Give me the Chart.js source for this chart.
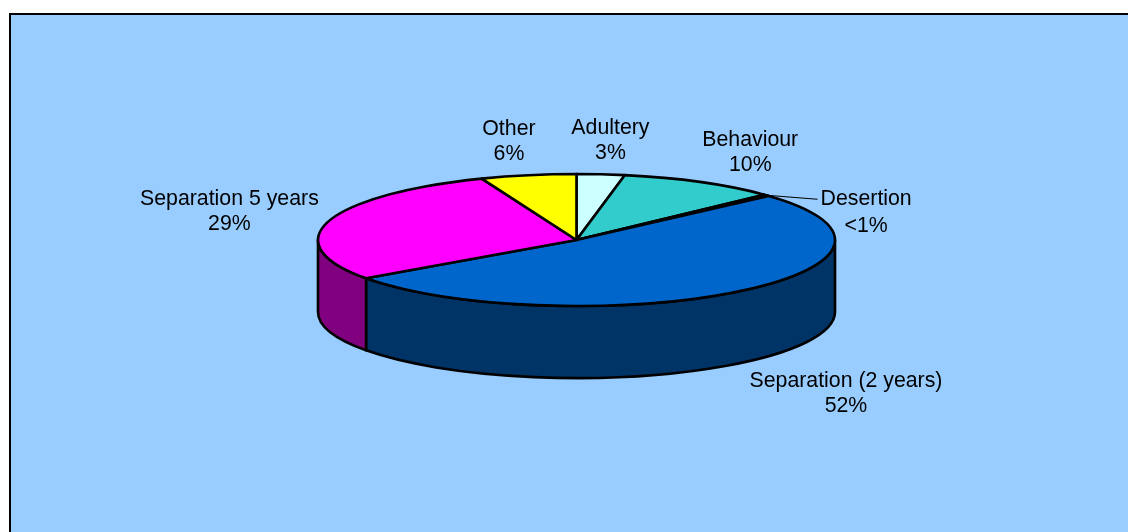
<!DOCTYPE html>
<html>
<head>
<meta charset="utf-8">
<script src="https://cdn.jsdelivr.net/npm/chart.js@4.4.1/dist/chart.umd.min.js"></script>
<style>
  html, body { margin: 0; padding: 0; background: #fff; overflow: hidden; width: 1128px; height: 532px; }
  #frame { position: absolute; left: 9px; top: 13px; width: 1200px; height: 600px;
           background: #99ccff; border-left: 2px solid #000; border-top: 2px solid #000; }
  #pie { position: absolute; left: 0; top: -60px; }
</style>
</head>
<body>
<div id="frame"></div>
<canvas id="pie" width="1128" height="600"></canvas>
<script>
// divorces by fact proven (percent of total)
var categories = ['Adultery', 'Behaviour', 'Desertion', 'Separation (2 years)', 'Separation 5 years', 'Other'];
var shares = [3, 10, 0.4, 52, 29, 6];
var topColours = ['#ccffff', '#33cccc', '#9999ff', '#0066cc', '#ff00ff', '#ffff00'];
var sideColours = ['#668080', '#1a6666', '#4d4d80', '#003366', '#800080', '#808000'];

var total = shares.reduce(function (a, b) { return a + b; }, 0);
function pctText(v) {
  var p = Math.round(v / total * 100);
  return p < 1 ? '<1%' : p + '%';
}

// flatten chart.js arcs into a tilted 3d pie
var pie3d = {
  id: 'pie3d',
  beforeDatasetsDraw: function (chart) {
    var ctx = chart.ctx;
    var arcs = chart.getDatasetMeta(0).data;
    var r = arcs[0].outerRadius;
    var cx = arcs[0].x, cy = arcs[0].y;
    var rx = r, ry = r * 0.2553, depth = 72;

    ctx.save();
    ctx.lineWidth = 2.6;
    ctx.strokeStyle = '#000';
    ctx.lineJoin = 'round';

    // side walls (front half only)
    arcs.forEach(function (a, i) {
      var a1 = Math.max(a.startAngle, 0), a2 = Math.min(a.endAngle, Math.PI);
      if (a2 <= a1) return;
      ctx.beginPath();
      ctx.ellipse(cx, cy, rx, ry, 0, a1, a2);
      ctx.ellipse(cx, cy + depth, rx, ry, 0, a2, a1, true);
      ctx.closePath();
      ctx.fillStyle = sideColours[i];
      ctx.fill();
      ctx.stroke();
    });

    // top faces
    arcs.forEach(function (a, i) {
      ctx.beginPath();
      ctx.moveTo(cx, cy);
      ctx.ellipse(cx, cy, rx, ry, 0, a.startAngle, a.endAngle);
      ctx.closePath();
      ctx.fillStyle = topColours[i];
      ctx.fill();
      ctx.stroke();
    });

    // labels
    ctx.fillStyle = '#000';
    ctx.font = '21.3px "Liberation Sans", Arial, sans-serif';
    ctx.textBaseline = 'middle';
    var lrx = rx + 103.5, lry = ry + 34;
    arcs.forEach(function (a, i) {
      var m = (a.startAngle + a.endAngle) / 2;
      var txt = pctText(shares[i]);
      if (shares[i] < 1) {
        // small slice: leader line out to the right
        var sx = cx + rx * Math.cos(m), sy = cy + ry * Math.sin(m);
        var ex = sx + 51, ey = sy + 4;
        ctx.lineWidth = 1.2;
        ctx.beginPath();
        ctx.moveTo(sx, sy);
        ctx.lineTo(ex, ey);
        ctx.stroke();
        ctx.textAlign = 'left';
        ctx.fillText(categories[i], ex + 3, ey);
        ctx.textAlign = 'center';
        var w = ctx.measureText(categories[i]).width;
        ctx.fillText(txt, ex + 3 + w / 2, ey + 27);
        return;
      }
      var lx = cx + lrx * Math.cos(m);
      var ly = cy + lry * Math.sin(m);
      if (Math.sin(m) > 0) { ly += depth + 4; lx += 43; }
      ctx.textAlign = 'center';
      ctx.fillText(categories[i], lx, ly - 12.5);
      ctx.fillText(txt, lx, ly + 12.5);
    });
    ctx.restore();
    return false;
  }
};

new Chart(document.getElementById('pie').getContext('2d'), {
  type: 'pie',
  data: {
    labels: categories,
    datasets: [{
      data: shares,
      backgroundColor: topColours,
      borderWidth: 0,
      hoverOffset: 0
    }]
  },
  options: {
    responsive: false,
    animation: false,
    events: [],
    layout: { padding: { left: 318, right: 293, top: 0, bottom: 0 } },
    plugins: {
      legend: { display: false },
      tooltip: { enabled: false }
    }
  },
  plugins: [pie3d]
});
</script>
</body>
</html>
